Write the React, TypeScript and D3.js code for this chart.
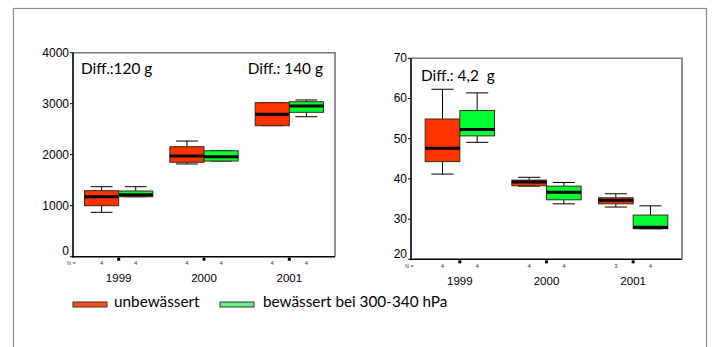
import React, { useEffect, useRef } from 'react';
import * as d3 from 'd3';

// years on the x axis
const years = ['1999', '2000', '2001'];

// box stats: [lower whisker, Q1, median, Q3, upper whisker]
const leftUnbew = [
  [870, 1000, 1176, 1294, 1373],
  [1818, 1851, 1975, 2157, 2268],
  [2569, 2569, 2792, 3020, 3020],
];
const leftBew = [
  [1176, 1176, 1216, 1288, 1373],
  [1876, 1876, 1961, 2078, 2078],
  [2745, 2831, 2955, 3039, 3073],
];
const rightUnbew = [
  [41.2, 44.3, 47.6, 54.9, 62.3],
  [38.2, 38.3, 39.2, 39.7, 40.4],
  [33.0, 33.8, 34.7, 35.3, 36.3],
];
const rightBew = [
  [49.1, 50.7, 52.3, 57.0, 61.4],
  [33.8, 34.8, 36.7, 38.2, 39.1],
  [27.6, 27.6, 28.0, 31.0, 33.3],
];

// N per box
const leftNUnbew = [4, 4, 4];
const leftNBew = [4, 4, 4];
const rightNUnbew = [4, 4, 3];
const rightNBew = [4, 4, 4];

const leftTicks = [0, 1000, 2000, 3000, 4000];
const rightTicks = [20, 30, 40, 50, 60, 70];

const legendLabels = ['unbewässert', 'bewässert bei 300-340 hPa'];

const RED = '#ff3300';
const GREEN = '#00ff33';

const App = () => {
  const ref = useRef<SVGSVGElement>(null);

  useEffect(() => {
    const svg = d3.select(ref.current);
    svg.selectAll('*').remove();

    // outer frame
    svg.append('rect')
      .attr('x', 13.5).attr('y', 8.5)
      .attr('width', 693).attr('height', 345)
      .attr('fill', 'none').attr('stroke', '#8c8c8c').attr('stroke-width', 1.2);

    const drawPanel = (opts: any) => {
      const { x0, x1, yTop, yBottom, domain, ticks, red, green, nRed, nGreen, bandPad, yearY, nY, diffs } = opts;
      const g = svg.append('g');

      const x = d3.scaleBand().domain(years).range([x0 + bandPad, x1 - bandPad]);
      const y = d3.scaleLinear().domain(domain).range([yBottom, yTop]);
      const bw = x.bandwidth() * 0.4;

      // top / right frame
      g.append('path')
        .attr('d', `M${x0},${yTop}H${x1}V${yBottom}`)
        .attr('fill', 'none').attr('stroke', '#777').attr('stroke-width', 1.6);

      // y axis
      g.append('line')
        .attr('x1', x0).attr('x2', x0).attr('y1', yTop).attr('y2', yBottom + 1)
        .attr('stroke', '#000').attr('stroke-width', 1.6);
      g.selectAll('.yt')
        .data(ticks)
        .enter().append('line')
        .attr('x1', x0 - 3).attr('x2', x0)
        .attr('y1', d => y(d)).attr('y2', d => y(d))
        .attr('stroke', '#000').attr('stroke-width', 1);
      g.selectAll('.yl')
        .data(ticks)
        .enter().append('text')
        .attr('x', x0 - 4).attr('y', d => Math.min(y(d) + 3.8, yBottom - 1.5))
        .attr('text-anchor', 'end')
        .attr('font-family', 'Liberation Sans, Arial, sans-serif')
        .attr('font-size', 12)
        .text(d => d);

      // x axis
      g.append('line')
        .attr('x1', x0).attr('x2', x1).attr('y1', yBottom).attr('y2', yBottom)
        .attr('stroke', '#000').attr('stroke-width', 1.6);
      g.selectAll('.xm')
        .data(years)
        .enter().append('rect')
        .attr('x', d => x(d)! + x.bandwidth() / 2 - 1.5)
        .attr('y', yBottom + 1)
        .attr('width', 3).attr('height', 3)
        .attr('fill', '#000');
      g.selectAll('.xl')
        .data(years)
        .enter().append('text')
        .attr('x', d => x(d)! + x.bandwidth() / 2)
        .attr('y', yearY)
        .attr('text-anchor', 'middle')
        .attr('font-family', 'Liberation Sans, Arial, sans-serif')
        .attr('font-size', 11.5)
        .text(d => d);

      // N labels
      g.append('text')
        .attr('x', x0 - 6).attr('y', nY)
        .attr('font-family', 'Liberation Sans, Arial, sans-serif')
        .attr('font-size', 5.5).attr('fill', '#444')
        .text('N =');

      const series = [
        { data: red, n: nRed, fill: RED, off: -bw / 2 },
        { data: green, n: nGreen, fill: GREEN, off: bw / 2 },
      ];

      series.forEach(s => {
        years.forEach((yr, i) => {
          const [lo, q1, med, q3, hi] = s.data[i];
          const cx = x(yr)! + x.bandwidth() / 2 + s.off;
          const cap = bw * 0.32;
          // whiskers
          g.append('line')
            .attr('x1', cx).attr('x2', cx).attr('y1', y(hi)).attr('y2', y(q3))
            .attr('stroke', '#000').attr('stroke-width', 1);
          g.append('line')
            .attr('x1', cx).attr('x2', cx).attr('y1', y(q1)).attr('y2', y(lo))
            .attr('stroke', '#000').attr('stroke-width', 1);
          g.append('line')
            .attr('x1', cx - cap).attr('x2', cx + cap).attr('y1', y(hi)).attr('y2', y(hi))
            .attr('stroke', '#000').attr('stroke-width', 1);
          g.append('line')
            .attr('x1', cx - cap).attr('x2', cx + cap).attr('y1', y(lo)).attr('y2', y(lo))
            .attr('stroke', '#000').attr('stroke-width', 1);
          // box
          g.append('rect')
            .attr('x', cx - bw / 2).attr('y', y(q3))
            .attr('width', bw).attr('height', y(q1) - y(q3))
            .attr('fill', s.fill).attr('stroke', '#3a2a1a').attr('stroke-width', 1);
          // median
          g.append('line')
            .attr('x1', cx - bw / 2).attr('x2', cx + bw / 2).attr('y1', y(med)).attr('y2', y(med))
            .attr('stroke', '#000').attr('stroke-width', 3);
          // n
          g.append('text')
            .attr('x', cx).attr('y', nY)
            .attr('text-anchor', 'middle')
            .attr('font-family', 'Liberation Sans, Arial, sans-serif')
            .attr('font-size', 6).attr('fill', '#333')
            .text(s.n[i]);
        });
      });

      diffs.forEach((d: any) => {
        g.append('text')
          .attr('x', d.x).attr('y', d.y)
          .attr('text-anchor', d.anchor)
          .attr('font-family', 'Lato, sans-serif')
          .attr('font-size', 15.4)
          .style('white-space', 'pre')
          .text(d.t);
      });
    };

    drawPanel({
      x0: 73, x1: 335, yTop: 52.7, yBottom: 256.7, domain: [0, 4000], ticks: leftTicks,
      red: leftUnbew, green: leftBew, nRed: leftNUnbew, nGreen: leftNBew,
      bandPad: 3, yearY: 282, nY: 265,
      diffs: [
        { t: 'Diff.:120 g', x: 81, y: 74, anchor: 'start' },
        { t: 'Diff.: 140 g', x: 323, y: 74, anchor: 'end' },
      ],
    });

    drawPanel({
      x0: 411, x1: 682, yTop: 58.3, yBottom: 259.3, domain: [20, 70], ticks: rightTicks,
      red: rightUnbew, green: rightBew, nRed: rightNUnbew, nGreen: rightNBew,
      bandPad: 5.5, yearY: 285, nY: 268,
      diffs: [
        { t: 'Diff.: 4,2  g', x: 421, y: 80.5, anchor: 'start' },
      ],
    });

    // legend
    const legend = svg.append('g');
    const items = [
      { label: legendLabels[0], fill: '#ff5018', x: 73, tx: 114 },
      { label: legendLabels[1], fill: '#66f08a', x: 220, tx: 263 },
    ];
    items.forEach(it => {
      legend.append('rect')
        .attr('x', it.x).attr('y', 302)
        .attr('width', 34).attr('height', 5)
        .attr('fill', it.fill).attr('stroke', '#333').attr('stroke-width', 1);
      legend.append('text')
        .attr('x', it.tx).attr('y', 307)
        .attr('font-family', 'Lato, sans-serif')
        .attr('font-size', 15.3)
        .text(it.label);
    });
  }, []);

  return (
    <svg ref={ref} width={713} height={347}
      style={{ position: 'absolute', left: 0, top: 0, background: '#fff' }} />
  );
};

export default App;
